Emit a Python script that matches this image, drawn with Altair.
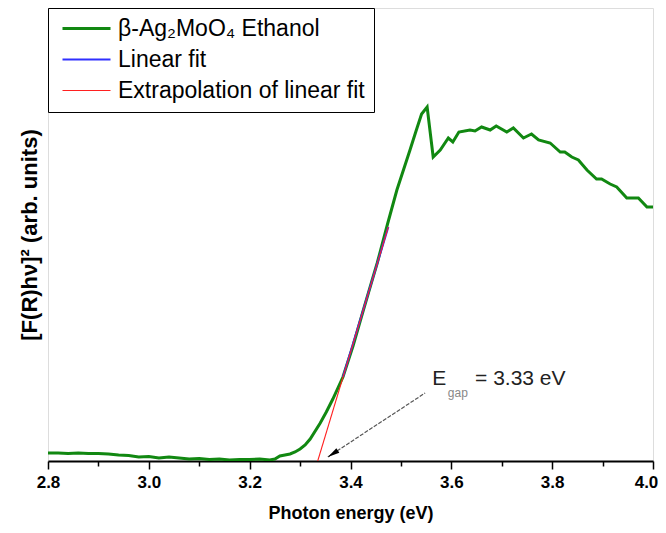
import altair as alt
import pandas as pd

FONT = "Liberation Sans"

# ---- data ----
series_names = ["β-Ag₂MoO₄ Ethanol", "Linear fit", "Extrapolation of linear fit"]
series_colors = ["#118811", "#3030ff", "#ff2020"]
series_widths = [3.0, 1.1, 1.1]

# measured spectrum (photon energy in eV, [F(R)hν]² in arbitrary units)
green_E = [2.80, 2.82, 2.84, 2.86, 2.88, 2.90, 2.92, 2.94, 2.96, 2.98,
           3.00, 3.02, 3.04, 3.06, 3.08, 3.10, 3.12, 3.14, 3.16, 3.18,
           3.20, 3.22, 3.24, 3.25, 3.26, 3.27, 3.28, 3.29, 3.30, 3.31,
           3.32, 3.34, 3.352, 3.365, 3.385, 3.405, 3.425, 3.443, 3.453, 3.474,
           3.492, 3.518, 3.530, 3.541, 3.552, 3.564, 3.578, 3.594, 3.603, 3.615,
           3.637, 3.647, 3.660, 3.677, 3.689, 3.710, 3.723, 3.743, 3.759, 3.773,
           3.796, 3.816, 3.825, 3.839, 3.852, 3.869, 3.888, 3.898, 3.915, 3.928,
           3.948, 3.971, 3.988, 4.000]
green_I = [8, 8, 7.5, 8, 7.5, 7.5, 7, 6, 5.5, 4,
           4.5, 3, 4, 3, 2, 2.5, 1.5, 2, 1, 1.5,
           1.5, 2, 1, 2, 5, 6, 7, 9, 12, 16,
           22, 38, 49, 62, 84, 115, 150, 181, 198, 238,
           271, 311, 330, 347, 354, 304, 311, 323, 319, 329,
           331, 330, 334, 331, 335, 329, 333, 323, 327, 321,
           318, 309, 309, 304, 301, 291, 282, 282, 277, 274,
           263, 263, 254, 254]

# linear fit and its extrapolation to the baseline
fit_E = [3.385, 3.475]
fit_I = [84, 234]
extrap_E = [3.335, 3.475]
extrap_I = [0, 234]

# annotation arrow (start -> tip) and arrow head
arrow_E = [3.548, 3.355]
arrow_I = [68, 4]
head_E = [3.365]
head_I = [7.3]
head_angle = 236.6

# annotation text pieces
label_E_x = [3.562]
label_E_y = [82]
label_sub_x = [3.593]
label_sub_y = [68]
label_val_x = [3.647]
label_val_y = [82]
label_val_text = ["= 3.33 eV"]

x_ticks = [2.8, 2.9, 3.0, 3.1, 3.2, 3.3, 3.4, 3.5, 3.6, 3.7, 3.8, 3.9, 4.0]
Y_MAX = 453

assert len(green_E) == len(green_I)

rows = []
for e, i in zip(green_E, green_I):
    rows.append({"E": e, "I": i, "series": series_names[0], "o": 0})
for e, i in zip(fit_E, fit_I):
    rows.append({"E": e, "I": i, "series": series_names[1], "o": 1})
for e, i in zip(extrap_E, extrap_I):
    rows.append({"E": e, "I": i, "series": series_names[2], "o": 2})
df = pd.DataFrame(rows)

xscale = alt.Scale(domain=[2.8, 4.0], nice=False, zero=False)
yscale = alt.Scale(domain=[0, Y_MAX], nice=False, zero=False)

x_axis = alt.Axis(
    values=x_ticks,
    labelExpr="round(datum.value*10) % 2 == 0 ? format(datum.value, '.1f') : ''",
    tickSize=alt.condition("round(datum.value*10) % 2 == 0", alt.value(8), alt.value(5)),
    labelOffset=alt.condition("datum.value > 3.95", alt.value(-7), alt.value(0)),
    tickColor="black", tickWidth=1.5,
    domainColor="black", domainWidth=2,
    labelFont=FONT, labelFontSize=17, labelFontWeight="bold", labelColor="black",
    labelPadding=5, labelOverlap=False, labelFlush=False,
    title="Photon energy (eV)", titleFont=FONT, titleFontSize=18,
    titleFontWeight="bold", titleColor="black", titlePadding=14,
    grid=False,
)
y_axis = alt.Axis(
    labels=False, ticks=False, domain=False, grid=False,
    title="[F(R)hν]² (arb. units)", titleFont=FONT, titleFontSize=22,
    titleFontWeight="bold", titleColor="black", titlePadding=7,
)

lines = alt.Chart(df).mark_line(clip=True).encode(
    x=alt.X("E:Q", scale=xscale, axis=x_axis),
    y=alt.Y("I:Q", scale=yscale, axis=y_axis),
    color=alt.Color(
        "series:N",
        scale=alt.Scale(domain=series_names, range=series_colors),
        legend=alt.Legend(
            orient="none", legendX=0, legendY=0, title=None,
            symbolType="M-0.75,0H5.25", symbolSize=256, symbolStrokeWidth=2.5,
            labelFont=FONT, labelFontSize=23, labelColor="black", labelLimit=500,
            labelOffset=38, padding=9, rowPadding=7,
            strokeColor="black", fillColor="white",
        ),
    ),
    strokeWidth=alt.StrokeWidth(
        "series:N",
        scale=alt.Scale(domain=series_names, range=series_widths),
        legend=None,
    ),
    detail="series:N",
    order="o:Q",
)

arrow_df = pd.DataFrame({"E": arrow_E, "I": arrow_I})
arrow = alt.Chart(arrow_df).mark_line(
    color="#555555", strokeWidth=1.2, strokeDash=[4, 1.5]
).encode(x=alt.X("E:Q", scale=xscale), y=alt.Y("I:Q", scale=yscale))

head_df = pd.DataFrame({"E": head_E, "I": head_I})
head = alt.Chart(head_df).mark_point(
    shape="M0,-1L0.45,1L-0.45,1Z", size=144, filled=True, color="black",
    opacity=1, angle=head_angle,
).encode(x=alt.X("E:Q", scale=xscale), y=alt.Y("I:Q", scale=yscale))

t_E = alt.Chart(pd.DataFrame({"E": label_E_x, "I": label_E_y, "t": ["E"]})).mark_text(
    align="left", baseline="middle", font=FONT, fontSize=21, color="#222222"
).encode(x=alt.X("E:Q", scale=xscale), y=alt.Y("I:Q", scale=yscale), text="t:N")

t_sub = alt.Chart(pd.DataFrame({"E": label_sub_x, "I": label_sub_y, "t": ["gap"]})).mark_text(
    align="left", baseline="middle", font=FONT, fontSize=12, color="#888888"
).encode(x=alt.X("E:Q", scale=xscale), y=alt.Y("I:Q", scale=yscale), text="t:N")

t_val = alt.Chart(pd.DataFrame({"E": label_val_x, "I": label_val_y, "t": label_val_text})).mark_text(
    align="left", baseline="middle", font=FONT, fontSize=21, color="#222222"
).encode(x=alt.X("E:Q", scale=xscale), y=alt.Y("I:Q", scale=yscale), text="t:N")

chart = alt.layer(lines, arrow, head, t_E, t_sub, t_val).properties(
    width=605, height=Y_MAX,
    autosize=alt.AutoSizeParams(type="none"),
    padding={"left": 40, "top": 0, "right": 5, "bottom": 64},
).configure_view(
    stroke="#222222", strokeWidth=1.5
).configure(font=FONT, background="white")

chart.save("out.html", embed_options={"renderer": "svg", "actions": False})
